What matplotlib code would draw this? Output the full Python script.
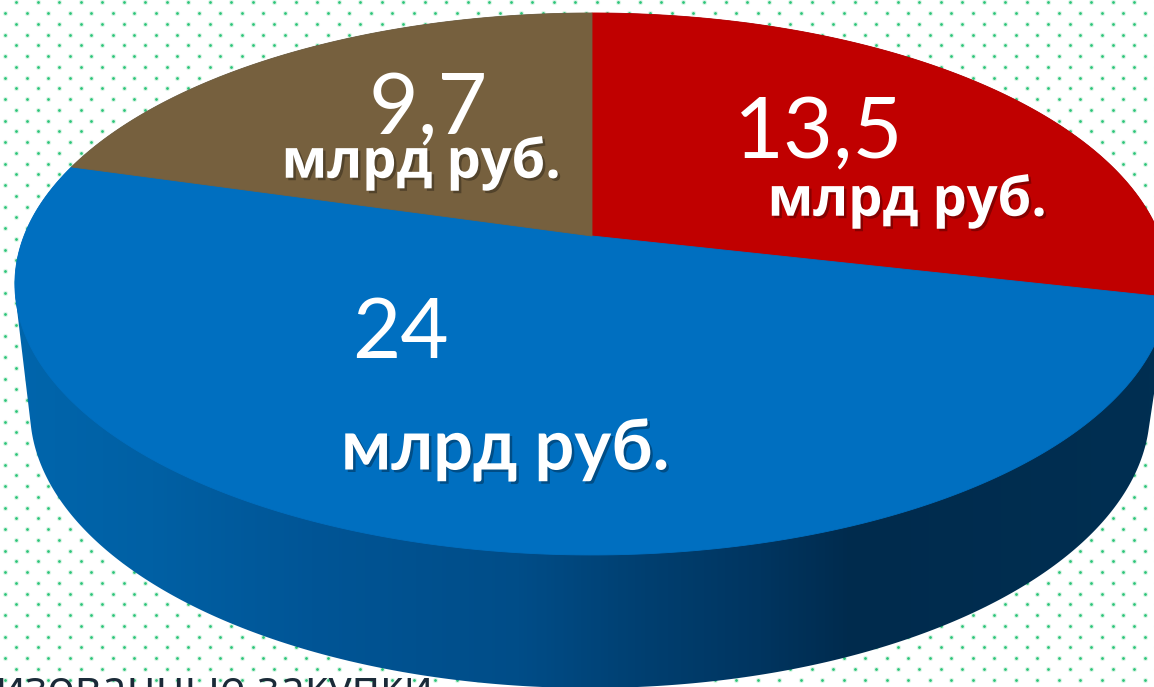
import numpy as np
from matplotlib import pyplot as plt
from matplotlib.patches import Polygon
from matplotlib.colors import LinearSegmentedColormap
import matplotlib.patheffects as pe

# values, clockwise from the top of the pie
values = [13.5, 24, 9.7]
colors = ['#c00000', '#006fc0', '#76603e']
value_labels = ['13,5', '24', '9,7']
unit_label = 'млрд руб.'
footer = 'изованные закупки'

W, H = 1154, 687

# perspective of the top face
cx, cy = 592, 236
A, B, k = 568, 262.5, 0.177
# lower rim of the cylinder
low_x, low_y, low_a, low_b = 590, 410, 560, 278


def project(theta):
  # theta clockwise from top, on the flat circle
  u, v = np.sin(theta), np.cos(theta)
  d = 1 + k * v
  return cx + A * u / d, cy - B * v / d


def hull(pts):
  pts = sorted(map(tuple, pts))
  def half(seq):
    out = []
    for p in seq:
      while len(out) > 1 and (out[-1][0]-out[-2][0])*(p[1]-out[-2][1]) - (out[-1][1]-out[-2][1])*(p[0]-out[-2][0]) <= 0:
        out.pop()
      out.append(p)
    return out[:-1]
  return half(pts) + half(pts[::-1])


fig = plt.figure(figsize=(W / 100, H / 100), dpi=100)
ax = fig.add_axes([0, 0, 1, 1])
ax.set_xlim(0, W)
ax.set_ylim(H, 0)
ax.axis('off')

# dotted background
rows = np.arange(0, 66)
for r in rows:
  y = 2.4 + r * 10.75
  x = np.arange(0, 56) * 21.5 + (16.3 if r % 2 == 0 else 5.3)
  ax.scatter(x, np.full_like(x, y), s=14, color='#dcf5e7', linewidths=0, zorder=1)
  ax.scatter(x, np.full_like(x, y), s=4, color='#2cc479', linewidths=0, zorder=1)

# side of the cylinder
t = np.linspace(0, 2 * np.pi, 721)
top_x, top_y = project(t)
side_x = low_x + low_a * np.cos(t)
side_y = low_y + low_b * np.sin(t)
outline = hull(np.vstack([np.column_stack([top_x, top_y]), np.column_stack([side_x, side_y])]))
shade = LinearSegmentedColormap.from_list('side', [
    (0, '#0066ad'), (0.13, '#0060a4'), (0.27, '#005596'), (0.45, '#004d88'),
    (0.56, '#003f70'), (0.66, '#003560'), (0.74, '#002b4d'), (1, '#002f52')])
grad = ax.imshow(np.linspace(0, 1, 600)[None, :], extent=(0, W, H, 0), cmap=shade,
                 aspect='auto', zorder=2, interpolation='bilinear')
side = Polygon(outline, closed=True, transform=ax.transData, fc='none', ec='none')
ax.add_patch(side)
grad.set_clip_path(side)
ax.set_xlim(0, W)
ax.set_ylim(H, 0)

# top face wedges, sized by the values
start = 0
total = sum(values)
for val, col in zip(values, colors):
  sweep = val / total * 2 * np.pi
  th = np.linspace(start, start + sweep, 300)
  x, y = project(th)
  ax.fill(np.r_[cx, x], np.r_[cy, y], color=col, lw=0.6, zorder=3)
  start += sweep

shadow = [pe.withSimplePatchShadow(offset=(1.8, -1.8), shadow_rgbFace='black', alpha=0.3)]

num_font = dict(family='Lato', color='white', ha='center', va='center', zorder=5)
ax.text(819, 134, value_labels[0], fontsize=62, **num_font)
ax.text(401, 335, value_labels[1], fontsize=60, **num_font)
ax.text(428, 110, value_labels[2], fontsize=62, **num_font)

unit_font = dict(family='Open Sans', color='white', ha='center', va='center', zorder=6, path_effects=shadow)
ax.text(421, 163, unit_label, fontsize=39, fontweight='bold', **unit_font)
ax.text(907, 201, unit_label, fontsize=39, fontweight='bold', **unit_font)
unit_font['family'] = 'Lato'
ax.text(505, 449, unit_label, fontsize=50.5, fontweight='bold', **unit_font)

ax.text(-4, 703, footer, family='Open Sans', fontsize=33, color='#1b2a38', ha='left', va='baseline', zorder=6)

plt.savefig('out.png', dpi=100)
